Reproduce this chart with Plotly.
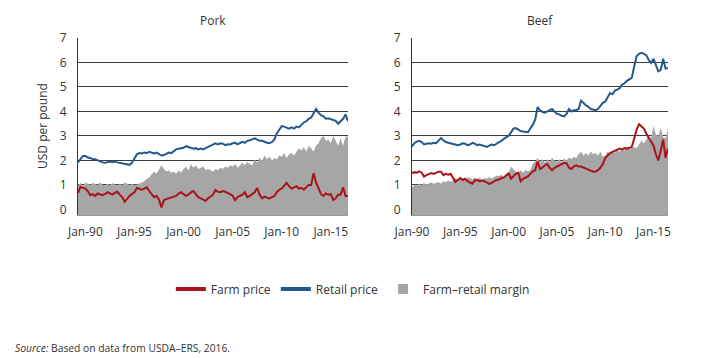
import pandas as pd
import plotly.graph_objects as go

# ---------------- data (quarterly readings, USD per pound) ----------------
pork_dates = pd.date_range("1989-04-01", "2016-10-01", freq="QS")
pork_retail = [
    1.92, 2.05, 2.18,
    2.18, 2.12, 2.10, 2.05,
    2.05, 2.00, 1.95, 1.92,
    1.90, 1.92, 1.95, 1.93,
    1.95, 1.92, 1.90, 1.88,
    1.85, 1.83, 1.82, 1.90,
    2.05, 2.25, 2.30, 2.28,
    2.32, 2.30, 2.35, 2.30,
    2.28, 2.32, 2.25, 2.20,
    2.22, 2.28, 2.32, 2.30,
    2.38, 2.45, 2.48, 2.50,
    2.52, 2.58, 2.55, 2.50,
    2.48, 2.50, 2.45, 2.48,
    2.45, 2.50, 2.55, 2.58,
    2.62, 2.70, 2.65, 2.70,
    2.68, 2.62, 2.66, 2.65,
    2.70, 2.72, 2.66, 2.72,
    2.76, 2.72, 2.80, 2.82,
    2.85, 2.90, 2.85, 2.80,
    2.80, 2.75, 2.72, 2.70,
    2.75, 2.85, 3.10, 3.25,
    3.40, 3.38, 3.35, 3.30,
    3.35, 3.30, 3.38, 3.35,
    3.45, 3.55, 3.60, 3.70,
    3.75, 3.95, 4.10, 3.95,
    3.85, 3.80, 3.70, 3.72,
    3.68, 3.65, 3.62, 3.50,
    3.60, 3.70, 3.88, 3.60,
]
pork_farm = [
    0.67, 0.92, 0.88,
    0.85, 0.75, 0.58, 0.62,
    0.55, 0.65, 0.62, 0.58,
    0.62, 0.70, 0.65, 0.60,
    0.68, 0.72, 0.60, 0.50,
    0.31, 0.45, 0.55, 0.62,
    0.70, 0.87, 0.82, 0.80,
    0.85, 0.90, 0.75, 0.62,
    0.50, 0.55, 0.40, 0.08,
    0.38, 0.42, 0.45, 0.48,
    0.50, 0.55, 0.65, 0.70,
    0.62, 0.55, 0.60, 0.70,
    0.75, 0.60, 0.50, 0.45,
    0.40, 0.35, 0.45, 0.52,
    0.60, 0.79, 0.72, 0.70,
    0.75, 0.72, 0.68, 0.62,
    0.55, 0.38, 0.50, 0.55,
    0.60, 0.70, 0.50, 0.55,
    0.62, 0.70, 0.87, 0.60,
    0.45, 0.52, 0.48, 0.45,
    0.50, 0.55, 0.70, 0.80,
    0.85, 0.95, 1.08, 0.95,
    0.85, 0.90, 0.95, 0.85,
    0.88, 0.80, 0.90, 1.00,
    1.00, 1.48, 1.10, 0.85,
    0.62, 0.55, 0.65, 0.60,
    0.62, 0.38, 0.45, 0.60,
    0.60, 0.90, 0.55, 0.55,
]
pork_margin = [
    1.00, 1.08, 0.95,
    1.10, 1.05, 1.00, 1.08,
    1.05, 1.00, 1.10, 1.02,
    0.98, 1.05, 1.00, 1.08,
    1.02, 0.98, 1.05, 1.00,
    1.10, 1.05, 1.00, 1.05,
    1.00, 1.02, 1.05, 1.10,
    1.15, 1.25, 1.30, 1.45,
    1.55, 1.45, 1.60, 1.80,
    1.65, 1.55, 1.60, 1.50,
    1.55, 1.45, 1.60, 1.50,
    1.65, 1.75, 1.60, 1.85,
    1.70, 1.80, 1.65, 1.70,
    1.75, 1.60, 1.65, 1.60,
    1.55, 1.65, 1.60, 1.70,
    1.65, 1.75, 1.70, 1.80,
    1.75, 1.85, 1.70, 1.80,
    1.90, 1.80, 1.95, 1.85,
    1.80, 2.05, 1.90, 2.10,
    2.00, 2.20, 2.05, 2.15,
    2.00, 2.10, 2.05, 2.20,
    2.15, 2.30, 2.10, 2.25,
    2.30, 2.20, 2.35, 2.50,
    2.40, 2.55, 2.35, 2.60,
    2.50, 2.35, 2.60, 2.70,
    2.90, 3.00, 2.80, 2.85,
    2.70, 3.00, 2.80, 2.60,
    2.90, 2.60, 3.00, 2.95,
]

beef_dates = pd.date_range("1990-01-01", "2016-07-01", freq="QS")
beef_retail = [
    2.57, 2.70, 2.77, 2.80,
    2.75, 2.65, 2.68, 2.70,
    2.68, 2.72, 2.70, 2.80,
    2.91, 2.82, 2.75, 2.72,
    2.70, 2.68, 2.65, 2.62,
    2.65, 2.70, 2.68, 2.62,
    2.65, 2.72, 2.68, 2.62,
    2.65, 2.62, 2.60, 2.55,
    2.60, 2.65, 2.62, 2.70,
    2.75, 2.80, 2.88, 2.95,
    3.00, 3.15, 3.30, 3.32,
    3.25, 3.20, 3.18, 3.15,
    3.15, 3.30, 3.45, 3.66,
    4.18, 4.05, 3.98, 3.95,
    4.00, 4.05, 4.10, 4.00,
    3.90, 3.88, 3.82, 3.80,
    3.90, 4.10, 4.00, 4.05,
    4.05, 4.10, 4.44, 4.35,
    4.25, 4.20, 4.10, 4.08,
    4.05, 4.10, 4.25, 4.35,
    4.40, 4.60, 4.75, 4.70,
    4.85, 4.89, 4.95, 5.10,
    5.15, 5.25, 5.30, 5.37,
    5.85, 6.25, 6.35, 6.39,
    6.35, 6.30, 6.10, 5.98,
    6.15, 5.90, 5.64, 5.70,
    6.15, 5.75, 5.78,
]
beef_farm = [
    1.47, 1.52, 1.50, 1.55,
    1.50, 1.34, 1.40, 1.45,
    1.48, 1.45, 1.50, 1.54,
    1.54, 1.40, 1.45, 1.42,
    1.45, 1.30, 1.13, 1.20,
    1.28, 1.20, 1.25, 1.15,
    1.10, 1.05, 1.18, 1.20,
    1.15, 1.18, 1.15, 1.10,
    1.04, 1.08, 1.15, 1.20,
    1.22, 1.28, 1.30, 1.40,
    1.47, 1.25, 1.35, 1.45,
    1.50, 1.15, 1.25, 1.30,
    1.35, 1.45, 1.55, 1.60,
    1.95, 1.65, 1.70, 1.80,
    1.85, 1.70, 1.60, 1.70,
    1.75, 1.80, 1.85, 1.90,
    1.88, 1.70, 1.65, 1.75,
    1.80, 1.75, 1.75, 1.70,
    1.65, 1.62, 1.58, 1.54,
    1.55, 1.60, 1.70, 1.85,
    2.10, 2.20, 2.30, 2.35,
    2.40, 2.45, 2.48, 2.45,
    2.50, 2.48, 2.52, 2.55,
    2.90, 3.25, 3.48, 3.40,
    3.30, 3.10, 2.95, 2.75,
    2.60, 2.25, 2.00, 2.40,
    2.85, 2.10, 2.50,
]
beef_margin = [
    0.88, 1.02, 0.98, 1.05,
    1.00, 1.08, 1.02, 1.05,
    1.10, 1.05, 1.08, 1.12,
    1.05, 1.15, 1.10, 1.18,
    1.12, 1.20, 1.28, 1.22,
    1.30, 1.25, 1.18, 1.30,
    1.28, 1.22, 1.30, 1.25,
    1.30, 1.20, 1.28, 1.25,
    1.32, 1.25, 1.30, 1.38,
    1.35, 1.42, 1.30, 1.45,
    1.50, 1.75, 1.65, 1.55,
    1.45, 1.60, 1.50, 1.62,
    1.55, 1.60, 1.85, 1.95,
    2.10, 1.95, 2.05, 1.90,
    2.05, 1.95, 2.10, 2.00,
    1.95, 2.05, 1.92, 2.08,
    2.00, 2.12, 2.05, 2.15,
    2.10, 2.25, 2.35, 2.20,
    2.30, 2.20, 2.36, 2.25,
    2.30, 2.20, 2.35, 2.15,
    2.20, 2.35, 2.25, 2.40,
    2.30, 2.45, 2.35, 2.50,
    2.40, 2.57, 2.45, 2.50,
    2.55, 2.50, 2.65, 2.80,
    2.70, 2.85, 3.00, 2.90,
    3.41, 3.05, 3.00, 3.33,
    2.95, 2.90, 3.30,
]

y_ticks = [0, 1, 2, 3, 4, 5, 6, 7]
x_tick_years = [1990, 1995, 2000, 2005, 2010, 2015]
x_tick_labels = ["Jan-90", "Jan-95", "Jan-00", "Jan-05", "Jan-10", "Jan-15"]

# ---------------- styles ----------------
FONT = "Open Sans"
RED = "#A8141A"
BLUE = "#24598D"
GREY = "#A6A6A6"
TXT = "#333333"
Y_MIN = -0.23
Y_MAX = 7.0

fig = go.Figure()

panels = [
    ("x", "y", pork_dates, pork_margin, pork_farm, pork_retail),
    ("x2", "y2", beef_dates, beef_margin, beef_farm, beef_retail),
]
for xa, ya, d, m, f, r in panels:
    fig.add_trace(go.Scatter(x=d, y=[Y_MIN] * len(d), mode="lines",
                             line=dict(width=0), showlegend=False,
                             hoverinfo="skip", xaxis=xa, yaxis=ya))
    fig.add_trace(go.Scatter(x=d, y=m, mode="lines", fill="tonexty",
                             fillcolor=GREY, line=dict(width=0, color=GREY),
                             showlegend=False, xaxis=xa, yaxis=ya,
                             name="Farm–retail margin"))
    fig.add_trace(go.Scatter(x=d, y=f, mode="lines",
                             line=dict(color=RED, width=2),
                             showlegend=False, xaxis=xa, yaxis=ya,
                             name="Farm price"))
    fig.add_trace(go.Scatter(x=d, y=r, mode="lines",
                             line=dict(color=BLUE, width=2),
                             showlegend=False, xaxis=xa, yaxis=ya,
                             name="Retail price"))

# legend entries
fig.add_trace(go.Scatter(x=[None], y=[None], mode="lines", name="Farm price",
                         line=dict(color=RED, width=4)))
fig.add_trace(go.Scatter(x=[None], y=[None], mode="lines", name="Retail price",
                         line=dict(color=BLUE, width=4)))
fig.add_trace(go.Scatter(x=[None], y=[None], mode="markers",
                         name="Farm–retail margin",
                         marker=dict(symbol="square", size=10, color=GREY)))

tickvals = [f"{y}-01-01" for y in x_tick_years]

xcommon = dict(tickmode="array", tickvals=tickvals, ticktext=x_tick_labels,
               showgrid=False, zeroline=False, showline=True,
               linecolor="#999999", linewidth=1, ticks="",
               tickfont=dict(family=FONT, size=12, color=TXT),
               ticklabelstandoff=6, fixedrange=True, automargin=False)
ycommon = dict(range=[Y_MIN, Y_MAX], tickvals=y_ticks, showgrid=True,
               gridcolor="#3c3c3c", gridwidth=1, zeroline=False,
               showline=True, linecolor="#333333", linewidth=1, ticks="",
               tickfont=dict(family=FONT, size=12, color=TXT),
               ticklabelstandoff=8, fixedrange=True, automargin=False)

fig.update_layout(
    width=720, height=358,
    margin=dict(l=0, r=0, t=0, b=0, autoexpand=False),
    paper_bgcolor="white", plot_bgcolor="white",
    font=dict(family=FONT, color=TXT),
    xaxis=dict(domain=[78 / 720, 348 / 720],
               range=["1989-04-01", "2016-10-01"], anchor="y", **xcommon),
    xaxis2=dict(domain=[412 / 720, 668 / 720],
                range=["1990-01-01", "2016-07-01"], anchor="y2", **xcommon),
    yaxis=dict(domain=[1 - 215 / 358, 1 - 38 / 358], anchor="x", **ycommon),
    yaxis2=dict(domain=[1 - 215 / 358, 1 - 38 / 358], anchor="x2", **ycommon),
    legend=dict(orientation="h", x=0.49, xanchor="center", y=1 - 289 / 358,
                yanchor="middle", font=dict(family=FONT, size=12, color=TXT),
                itemwidth=30, bgcolor="rgba(0,0,0,0)", traceorder="normal"),
    showlegend=True,
    annotations=[
        dict(text="Pork", x=213 / 720, y=1 - 20 / 358, xref="paper",
             yref="paper", showarrow=False, xanchor="center", yanchor="middle",
             font=dict(family=FONT, size=12, color=TXT)),
        dict(text="Beef", x=540 / 720, y=1 - 20 / 358, xref="paper",
             yref="paper", showarrow=False, xanchor="center", yanchor="middle",
             font=dict(family=FONT, size=12, color=TXT)),
        dict(text="USD per pound", x=42 / 720, y=1 - 126 / 358, xref="paper",
             yref="paper", showarrow=False, textangle=-90,
             xanchor="center", yanchor="middle",
             font=dict(family=FONT, size=12, color=TXT)),
        dict(text="<i>Source:</i> Based on data from USDA–ERS, 2016.",
             x=13 / 720, y=1 - 348 / 358, xref="paper", yref="paper",
             showarrow=False, xanchor="left", yanchor="middle",
             font=dict(family=FONT, size=10.3, color=TXT)),
    ],
)

fig.write_html(
    "out.html",
    config={"displayModeBar": False},
    post_script="document.body.style.margin='0';document.body.style.padding='0';",
)
